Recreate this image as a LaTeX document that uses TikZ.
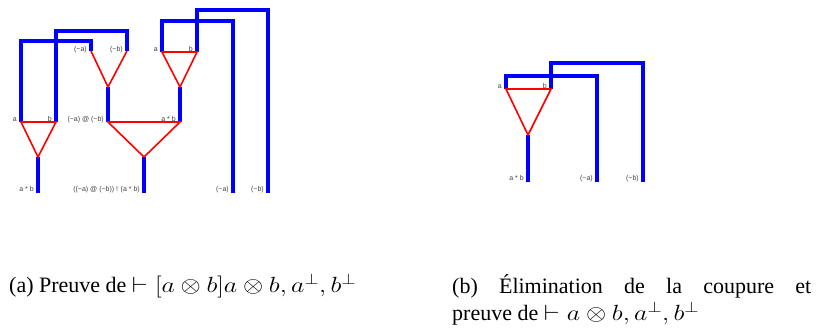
\RequirePackage{fix-cm}
\documentclass[tikz,border=0pt]{standalone}
\usepackage{graphicx}
\usepackage{fontspec}
\setmainfont{Liberation Serif}
\newfontfamily\lblfont{Liberation Sans}
\newcommand\capmath[1]{\scalebox{1.18}[1]{$#1$}}
\newcommand\lneg{\textasciitilde}
\begin{document}
\begin{tikzpicture}[x=1pt,y=-1pt,
  wire/.style={blue,line width=4pt,line join=miter},
  redl/.style={red,line width=1.6pt,line join=miter},
  lbl/.style={inner sep=0pt,text=black!75,font=\lblfont\fontsize{7}{8}\selectfont},
  captxt/.style={inner sep=0pt,font=\fontsize{22}{26}\selectfont}]
\useasboundingbox (0,0) rectangle (816,333);
% ---------- left proof net ----------
\coordinate (T1a) at (21,122);
\coordinate (T1b) at (56,122);
\coordinate (T1o) at (38,157);
\coordinate (T1e) at (38,193);
\coordinate (P1a) at (91,51);
\coordinate (P1b) at (127,51);
\coordinate (P1o) at (108,87);
\coordinate (Ca) at (108,122);
\coordinate (Cb) at (180,122);
\coordinate (Co) at (144,157);
\coordinate (Ce) at (144,193);
\coordinate (T2a) at (162,52);
\coordinate (T2b) at (197,52);
\coordinate (T2o) at (180,87);
\coordinate (O1) at (233,193);
\coordinate (O2) at (268,193);
% axiom links
\draw[wire] (T1a) -- (21,41) -- (91,41) -- (P1a);
\draw[wire] (T1b) -- (56,31) -- (127,31) -- (P1b);
\draw[wire] (T2a) -- (162,21) -- (233,21) -- (O1);
\draw[wire] (T2b) -- (197,10) -- (268,10) -- (O2);
% other wires
\draw[wire] (T1o) -- (T1e);
\draw[wire] (P1o) -- (Ca);
\draw[wire] (T2o) -- (Cb);
\draw[wire] (Co) -- (Ce);
% links
\draw[redl] (T1a) -- (T1b) -- (T1o) -- cycle;
\draw[redl] (P1a) -- (P1o) -- (P1b);
\draw[redl] (T2a) -- (T2b) -- (T2o) -- cycle;
\draw[redl] (Ca) -- (Cb) -- (Co) -- cycle;
% labels
\node[lbl,anchor=base east] (l1) at (17,121) {a};
\node[lbl,anchor=base east] (l2) at (52,121) {b};
\node[lbl,anchor=base east] (l3) at (104,121) {(\lneg a) @ (\lneg b)};
\node[lbl,anchor=base east] (l4) at (176,121) {a * b};
\node[lbl,anchor=base east] (l5) at (87,51) {(\lneg a)};
\node[lbl,anchor=base east] (l6) at (123,51) {(\lneg b)};
\node[lbl,anchor=base east] (l7) at (158,51) {a};
\node[lbl,anchor=base east] (l8) at (193,51) {b};
\node[lbl,anchor=base east] (l9) at (34,191) {a * b};
\node[lbl,anchor=base east] (l10) at (140,191) {((\lneg a) @ (\lneg b)) ! (a * b)};
\node[lbl,anchor=base east] (l11) at (229,191) {(\lneg a)};
\node[lbl,anchor=base east] (l12) at (264,191) {(\lneg b)};
% ---------- right proof net ----------
\coordinate (Ra) at (506,89);
\coordinate (Rb) at (551,89);
\coordinate (Ro) at (528,135);
\coordinate (Re) at (528,182);
\coordinate (RO1) at (597,182);
\coordinate (RO2) at (643,182);
\draw[wire] (Ra) -- (506,76) -- (597,76) -- (RO1);
\draw[wire] (Rb) -- (551,63) -- (643,63) -- (RO2);
\draw[wire] (Ro) -- (Re);
\draw[redl] (Ra) -- (Rb) -- (Ro) -- cycle;
\node[lbl,anchor=base east] (r1) at (502,88) {a};
\node[lbl,anchor=base east] (r2) at (547,88) {b};
\node[lbl,anchor=base east] (r3) at (524,180) {a * b};
\node[lbl,anchor=base east] (r4) at (593,180) {(\lneg a)};
\node[lbl,anchor=base east] (r5) at (639,180) {(\lneg b)};
% ---------- captions ----------
\node[captxt,anchor=base west] (ca) at (9,292) {(a) Preuve de \capmath{\vdash [a\otimes b]a\otimes b, a^{\perp}, b^{\perp}}};
\node[captxt,anchor=base west] (cb1) at (452,293) {\makebox[359pt][s]{(b) Élimination de la coupure et}};
\node[captxt,anchor=base west] (cb2) at (452,320) {preuve de \capmath{\vdash a\otimes b, a^{\perp}, b^{\perp}}};
\end{tikzpicture}
\end{document}
